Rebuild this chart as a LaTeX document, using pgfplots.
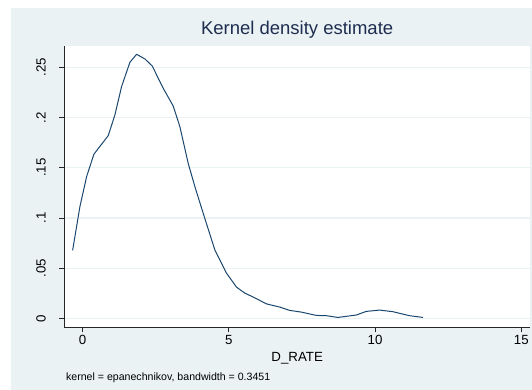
\documentclass[border=0pt]{standalone}
\usepackage{pgfplots}
\pgfplotsset{compat=1.18}
\usepackage{fontspec}
\setmainfont{Liberation Sans}
\definecolor{panel}{RGB}{234,242,243}
\definecolor{gridc}{RGB}{234,242,243}
\definecolor{navy}{RGB}{26,71,111}
\definecolor{titlec}{RGB}{30,45,80}
\begin{document}
\begin{tikzpicture}[x=1pt,y=1pt]
\path (0,0) rectangle (532,390);
\fill[panel] (11,0) rectangle (532,382);
\begin{axis}[
  at={(64.3pt,62.3pt)}, anchor=south west,
  scale only axis, width=466.2pt, height=282pt,
  xmin=-0.629, xmax=15.30, ymin=-0.00895, ymax=0.2715,
  axis x line*=bottom, axis y line*=left,
  axis line style={black!85, line width=0.8pt, -},
  axis background/.style={fill=white},
  xtick={0,5,10,15}, xticklabels={0,5,10,15},
  ytick={0,0.05,0.1,0.15,0.2,0.25},
  yticklabels={0,.05,.1,.15,.2,.25},
  tick align=outside, major tick length=5pt,
  tick style={black!85, line width=0.8pt},
  ymajorgrids, grid style={gridc, line width=1.2pt},
  ticklabel style={font=\fontsize{13.3}{14}\selectfont},
  xticklabel style={anchor=base, yshift=-12pt},
  yticklabel style={rotate=90, anchor=south, yshift=10pt},
  /pgf/number format/assume math mode=true,
  title={Kernel density estimate},
  title style={font=\fontsize{18.5}{20}\selectfont, text=titlec, at={(axis description cs:0.5,1)}, anchor=base, yshift=5pt},
  xlabel={D\_RATE},
  xlabel style={font=\fontsize{13.3}{14}\selectfont, at={(axis description cs:0.5,0)}, anchor=base, yshift=-34pt},
  clip=false,
]
\addplot[navy, line width=1pt, line join=round] coordinates {
(-0.343,0.0677) (-0.092,0.1114) (0.136,0.1412) (0.386,0.1635) (0.876,0.1820)
(1.104,0.2026) (1.331,0.2307) (1.616,0.2549) (1.844,0.2629) (2.128,0.2583)
(2.379,0.2513) (2.755,0.2291) (3.096,0.2115) (3.324,0.1910) (3.609,0.1545)
(3.837,0.1313) (4.121,0.1048) (4.520,0.0683) (4.919,0.0451) (5.260,0.0312)
(5.545,0.0252) (5.830,0.0213) (6.285,0.0145) (6.740,0.0113) (7.080,0.0080)
(7.480,0.0063) (7.990,0.0030) (8.335,0.0027) (8.730,0.0010) (9.360,0.0034)
(9.700,0.0070) (10.157,0.0083) (10.610,0.0067) (11.180,0.0027) (11.640,0.0010)
};
\end{axis}
\node[anchor=base west, inner sep=0pt, font=\fontsize{10.6}{12}\selectfont] at (66,9) {kernel = epanechnikov, bandwidth = 0.3451};
\end{tikzpicture}
\end{document}
